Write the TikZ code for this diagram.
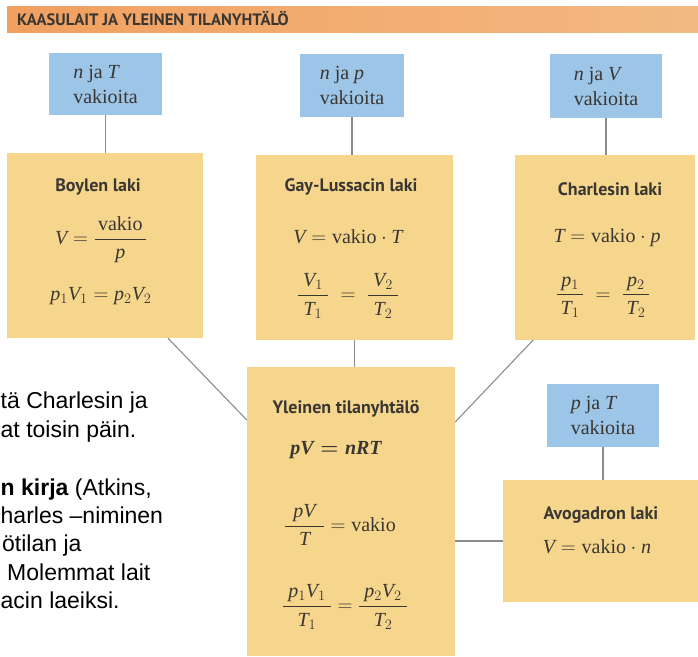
\documentclass[tikz,border=0pt]{standalone}
\usepackage[dvipsnames]{xcolor}
\usepackage{amsmath}
\usepackage{fontspec}
\setmainfont{Liberation Serif}
\newfontfamily\titlefont{PT Sans}
\newfontfamily\pagefont{Liberation Sans}
\DeclareSymbolFont{letters}{TU}{\rmdefault}{m}{it}
\SetSymbolFont{letters}{bold}{TU}{\rmdefault}{b}{it}
\usepackage{tikz}

\definecolor{headorange}{HTML}{F0A864}
\definecolor{condblue}{HTML}{9DC5E8}
\definecolor{lawyellow}{HTML}{F6D68C}
\definecolor{inkgray}{HTML}{3A3733}
\definecolor{linkgray}{HTML}{8C8C8C}

% fraction with a longer bar
\newcommand{\widefrac}[3][.35em]{\dfrac{\hspace{#1}#2\hspace{#1}}{#3}}

\begin{document}
\begin{tikzpicture}[x=1pt,y=-1pt,
		cond/.style={rectangle, fill=condblue, inner sep=0pt, align=left, text=inkgray, font=\fontsize{20}{25}\selectfont},
		law/.style={rectangle, fill=lawyellow, inner sep=0pt},
		lawname/.style={text=inkgray, font=\titlefont\bfseries\fontsize{18}{20}\selectfont},
		eq/.style={text=inkgray, font=\fontsize{20}{24}\selectfont},
		link/.style={draw=linkgray, line width=1.1pt},
		side/.style={anchor=base west, inner sep=0pt, font=\pagefont\fontsize{23}{27}\selectfont}]
		\useasboundingbox (0,0) rectangle (698,656);
		\clip (0,0) rectangle (698,656);
		% Header
		\node[left color=headorange!95!red, right color=headorange!80!white, minimum width=691pt, minimum height=26pt, inner sep=0pt] (head) at (352.5,19) {};
		\node[anchor=west, inner sep=0pt, text=inkgray, font=\titlefont\bfseries\fontsize{16.5}{18}\selectfont] (headtext) at (17,19) {KAASULAIT JA YLEINEN TILANYHTÄLÖ};
		% Text of the page behind
		\node[side] (line1) at (0.5,408) {tä Charlesin ja};
		\node[side] (line2) at (0.5,437) {at toisin päin.};
		\node[side] (line3) at (0.5,495) {\textbf{n kirja} (Atkins,};
		\node[side] (line4) at (0.5,523) {harles –niminen};
		\node[side] (line5) at (2,551) {ötilan ja};
		\node[side] (line6) at (7,580) {Molemmat lait};
		\node[side] (line7) at (0.5,608) {acin laeiksi.};
		% Constant quantities
		\node[cond, minimum width=113pt, minimum height=62pt] (nT) at (105.5,84) {$n$ ja $T$\\vakioita};
		\node[cond, minimum width=104pt, minimum height=63pt] (np) at (352,85.5) {$n$ ja $p$\\vakioita};
		\node[cond, minimum width=112pt, minimum height=64pt] (nV) at (606,86) {$n$ ja $V$\\vakioita};
		\node[cond, minimum width=112pt, minimum height=63pt] (pT) at (603,415.5) {$p$ ja $T$\\vakioita};
		% Gas laws
		\node[law, minimum width=196pt, minimum height=185pt] (boyle) at (105,245.5) {};
		\node[law, minimum width=197pt, minimum height=185pt] (gay) at (354.5,247.5) {};
		\node[law, minimum width=180pt, minimum height=185pt] (charles) at (605,247.5) {};
		\node[law, minimum width=208pt, minimum height=289pt] (ideal) at (351,511.5) {};
		\node[law, minimum width=195pt, minimum height=122pt] (avog) at (600.5,541) {};
		% Connectors
		\draw[link] (nT.south) -- (nT.south |- boyle.north);
		\draw[link] (np.south) -- (np.south |- gay.north);
		\draw[link] (nV.south) -- (nV.south |- charles.north);
		\draw[link] (gay.south) -- (gay.south |- ideal.north);
		\draw[link] ([xshift=63pt]boyle.south) -- ([yshift=91.5pt]ideal.west);
		\draw[link] ([xshift=-72pt]charles.south) -- ([yshift=89.5pt]ideal.east);
		\draw[link] (avog.west -| ideal.east) -- (avog.west);
		\draw[link] (pT.south) -- (pT.south |- avog.north);
		% Boylen laki
		\node[lawname] (boylename) at (98,187) {Boylen laki};
		\node[eq] (boyleeqa) at (101,240) {$V = \widefrac[.15em]{\mathrm{vakio}}{p}$};
		\node[eq] (boyleeqb) at (101,296) {$p_1V_1 = p_2V_2$};
		% Gay-Lussacin laki
		\node[lawname] (gayname) at (351,187) {Gay-Lussacin laki};
		\node[eq] (gayeqa) at (348,237) {$V = \mathrm{vakio}\cdot T$};
		\node[eq] (gayeqb) at (348,296) {$\widefrac[.25em]{V_1}{T_1}\;=\;\widefrac[.25em]{V_2}{T_2}$};
		% Charlesin laki
		\node[lawname] (charlesname) at (610,189) {Charlesin laki};
		\node[eq] (charleseqa) at (607,238) {$T = \mathrm{vakio}\cdot p$};
		\node[eq] (charleseqb) at (603,297) {$\widefrac[.2em]{p_1}{T_1}\;=\;\widefrac[.2em]{p_2}{T_2}$};
		% Yleinen tilanyhtälö
		\node[lawname] (idealname) at (346,409) {Yleinen tilanyhtälö};
		\node[eq] (idealeqa) at (336,450) {{\boldmath$pV = nRT$}};
		\node[eq] (idealeqb) at (340,525) {$\widefrac[.4em]{pV}{T} = \mathrm{vakio}$};
		\node[eq] (idealeqc) at (345,607) {$\widefrac[.25em]{p_1V_1}{T_1} = \widefrac[.25em]{p_2V_2}{T_2}$};
		% Avogadron laki
		\node[lawname] (avogname) at (601,515) {Avogadron laki};
		\node[eq] (avogeqa) at (597,547) {$V = \mathrm{vakio}\cdot n$};
	\end{tikzpicture}
\end{document}
